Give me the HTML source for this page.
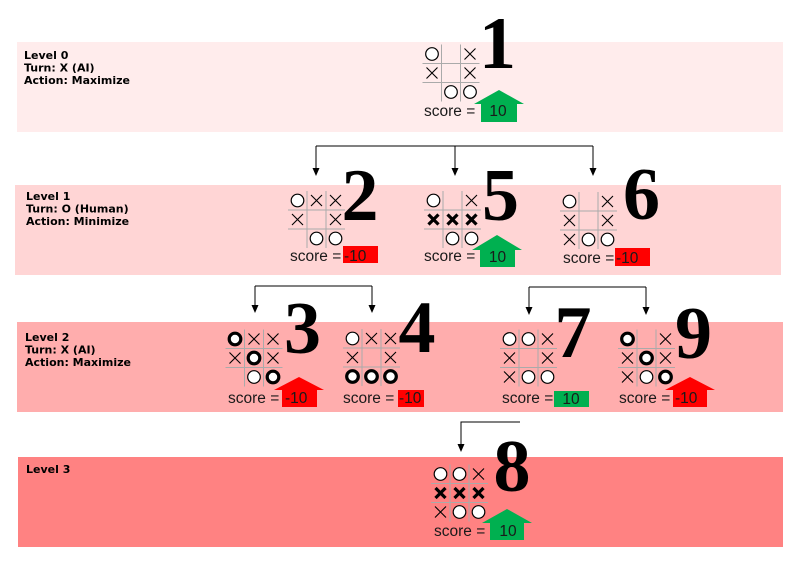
<!DOCTYPE html>
<html><head><meta charset="utf-8"><style>
html,body{margin:0;padding:0;background:#fff;}
svg{display:block;}
.lbl{font-family:"DejaVu Sans","Liberation Sans",sans-serif;font-weight:bold;font-size:11px;fill:#000;}
.big{font-family:"Liberation Serif",serif;font-weight:bold;font-size:74px;fill:#000;}
.sc{font-family:"Liberation Sans",sans-serif;font-size:15.5px;fill:#1a1a1a;}
</style></head><body>
<svg width="800" height="566" viewBox="0 0 800 566" xmlns="http://www.w3.org/2000/svg">
<defs>
  <g id="o"><circle r="6.3" fill="#fff" stroke="#000" stroke-width="1.2"/></g>
  <g id="ob"><circle r="5.8" fill="#fff" stroke="#000" stroke-width="3.2"/></g>
  <g id="x"><path d="M-5.5 -5.5L5.5 5.5M5.5 -5.5L-5.5 5.5" stroke="#000" stroke-width="1.1" fill="none"/></g>
  <g id="xb"><path d="M-5 -5L5 5M5 -5L-5 5" stroke="#000" stroke-width="3.2" fill="none"/></g>
  <g id="grid" stroke="#aaaaaa" stroke-width="1"><line x1="19" y1="0" x2="19" y2="57"/><line x1="38" y1="0" x2="38" y2="57"/><line x1="0" y1="19" x2="57" y2="19"/><line x1="0" y1="38" x2="57" y2="38"/></g>
  <marker id="ah" markerWidth="8" markerHeight="9" refX="4" refY="9" orient="auto" markerUnits="userSpaceOnUse"></marker>
</defs>

<!-- bands -->
<rect x="17" y="42" width="766" height="90" fill="#ffecec"/>
<rect x="15" y="185" width="766" height="90" fill="#ffd5d5"/>
<rect x="17" y="322" width="766" height="90" fill="#ffadad"/>
<rect x="18" y="457" width="765" height="90" fill="#ff8282"/>

<!-- labels -->
<text class="lbl" x="24" y="59">Level 0</text>
<text class="lbl" x="24" y="71.5">Turn: X (AI)</text>
<text class="lbl" x="24" y="84">Action: Maximize</text>

<text class="lbl" x="26" y="200">Level 1</text>
<text class="lbl" x="26" y="212.5">Turn: O (Human)</text>
<text class="lbl" x="26" y="225">Action: Minimize</text>

<text class="lbl" x="25" y="341">Level 2</text>
<text class="lbl" x="25" y="353.5">Turn: X (AI)</text>
<text class="lbl" x="25" y="366">Action: Maximize</text>

<text class="lbl" x="26" y="473">Level 3</text>

<!-- connectors -->
<g stroke="#000" stroke-width="1" fill="none">
  <path d="M316 146H593M316 146V169M455 146V169M593 146V169"/>
  <path d="M255 286H372M255 286V306M372 286V306"/>
  <path d="M529 287H646M529 287V308M646 287V308"/>
  <path d="M520 422H461V445"/>
</g>
<g fill="#000">
  <polygon points="316,176 312.5,168 319.5,168"/>
  <polygon points="455,176 451.5,168 458.5,168"/>
  <polygon points="593,176 589.5,168 596.5,168"/>
  <polygon points="255,313 251.5,305 258.5,305"/>
  <polygon points="372,313 368.5,305 375.5,305"/>
  <polygon points="529,315 525.5,307 532.5,307"/>
  <polygon points="646,315 642.5,307 649.5,307"/>
  <polygon points="461,452 457.5,444 464.5,444"/>
</g>

<!-- Board 1 -->
<g transform="translate(422.5,44.5)">
  <use href="#grid"/>
  <use href="#o" x="9.5" y="9.5"/><use href="#x" x="47.5" y="9.5"/>
  <use href="#x" x="9.5" y="28.5"/><use href="#x" x="47.5" y="28.5"/>
  <use href="#o" x="28.5" y="47.5"/><use href="#o" x="47.5" y="47.5"/>
</g>
<text class="big" x="497.5" y="68" text-anchor="middle">1</text>
<text class="sc" x="424" y="116">score =</text>
<polygon points="499,90 524,104 517,104 517,122 481,122 481,104 474,104" fill="#00b050"/>
<text class="sc" x="498" y="116" text-anchor="middle">10</text>

<!-- Board 2 -->
<g transform="translate(288,191)">
  <use href="#grid"/>
  <use href="#o" x="9.5" y="9.5"/><use href="#x" x="28.5" y="9.5"/><use href="#x" x="47.5" y="9.5"/>
  <use href="#x" x="9.5" y="28.5"/><use href="#x" x="47.5" y="28.5"/>
  <use href="#o" x="28.5" y="47.5"/><use href="#o" x="47.5" y="47.5"/>
</g>
<text class="big" x="360" y="220" text-anchor="middle">2</text>
<text class="sc" x="290" y="261">score =</text>
<rect x="343" y="246" width="35" height="17" fill="#ff0000"/>
<text class="sc" x="344" y="261">-10</text>

<!-- Board 5 -->
<g transform="translate(424,191)">
  <use href="#grid"/>
  <use href="#o" x="9.5" y="9.5"/><use href="#x" x="47.5" y="9.5"/>
  <use href="#xb" x="9.5" y="28.5"/><use href="#xb" x="28.5" y="28.5"/><use href="#xb" x="47.5" y="28.5"/>
  <use href="#o" x="28.5" y="47.5"/><use href="#o" x="47.5" y="47.5"/>
</g>
<text class="big" x="500.5" y="220" text-anchor="middle">5</text>
<text class="sc" x="424" y="261">score =</text>
<polygon points="497,235 522,250 515,250 515,267 480,267 480,250 472,250" fill="#00b050"/>
<text class="sc" x="497.5" y="262" text-anchor="middle">10</text>

<!-- Board 6 -->
<g transform="translate(560,192)">
  <use href="#grid"/>
  <use href="#o" x="9.5" y="9.5"/><use href="#x" x="47.5" y="9.5"/>
  <use href="#x" x="9.5" y="28.5"/><use href="#x" x="47.5" y="28.5"/>
  <use href="#x" x="9.5" y="47.5"/><use href="#o" x="28.5" y="47.5"/><use href="#o" x="47.5" y="47.5"/>
</g>
<text class="big" x="641.5" y="219" text-anchor="middle">6</text>
<text class="sc" x="563" y="263">score =</text>
<rect x="615" y="248" width="35" height="18" fill="#ff0000"/>
<text class="sc" x="616" y="263">-10</text>

<!-- Board 3 -->
<g transform="translate(225.5,329.5)">
  <use href="#grid"/>
  <use href="#ob" x="9.5" y="9.5"/><use href="#x" x="28.5" y="9.5"/><use href="#x" x="47.5" y="9.5"/>
  <use href="#x" x="9.5" y="28.5"/><use href="#ob" x="28.5" y="28.5"/><use href="#x" x="47.5" y="28.5"/>
  <use href="#o" x="28.5" y="47.5"/><use href="#ob" x="47.5" y="47.5"/>
</g>
<text class="big" x="302.5" y="353" text-anchor="middle">3</text>
<text class="sc" x="228" y="403">score =</text>
<polygon points="299,377 324,390 317,390 317,407 282,407 282,390 274,390" fill="#ff0000"/>
<text class="sc" x="285" y="403">-10</text>

<!-- Board 4 -->
<g transform="translate(343,329)">
  <use href="#grid"/>
  <use href="#o" x="9.5" y="9.5"/><use href="#x" x="28.5" y="9.5"/><use href="#x" x="47.5" y="9.5"/>
  <use href="#x" x="9.5" y="28.5"/><use href="#x" x="47.5" y="28.5"/>
  <use href="#ob" x="9.5" y="47.5"/><use href="#ob" x="28.5" y="47.5"/><use href="#ob" x="47.5" y="47.5"/>
</g>
<text class="big" x="417" y="352" text-anchor="middle">4</text>
<text class="sc" x="343" y="403">score =</text>
<rect x="398" y="390" width="26" height="17" fill="#ff0000"/>
<text class="sc" x="399" y="403">-10</text>

<!-- Board 7 -->
<g transform="translate(500,329.5)">
  <use href="#grid"/>
  <use href="#o" x="9.5" y="9.5"/><use href="#o" x="28.5" y="9.5"/><use href="#x" x="47.5" y="9.5"/>
  <use href="#x" x="9.5" y="28.5"/><use href="#x" x="47.5" y="28.5"/>
  <use href="#x" x="9.5" y="47.5"/><use href="#o" x="28.5" y="47.5"/><use href="#o" x="47.5" y="47.5"/>
</g>
<text class="big" x="573" y="357" text-anchor="middle">7</text>
<text class="sc" x="502" y="403">score =</text>
<rect x="554" y="391" width="35" height="16" fill="#00b050"/>
<text class="sc" x="571" y="404" text-anchor="middle">10</text>

<!-- Board 9 -->
<g transform="translate(618,329.5)">
  <use href="#grid"/>
  <use href="#ob" x="9.5" y="9.5"/><use href="#x" x="47.5" y="9.5"/>
  <use href="#x" x="9.5" y="28.5"/><use href="#ob" x="28.5" y="28.5"/><use href="#x" x="47.5" y="28.5"/>
  <use href="#x" x="9.5" y="47.5"/><use href="#o" x="28.5" y="47.5"/><use href="#ob" x="47.5" y="47.5"/>
</g>
<text class="big" x="693.5" y="358" text-anchor="middle">9</text>
<text class="sc" x="619" y="403">score =</text>
<polygon points="690,377 715,390 707,390 707,407 673,407 673,390 665,390" fill="#ff0000"/>
<text class="sc" x="675" y="403">-10</text>

<!-- Board 8 -->
<g transform="translate(431,464.5)">
  <use href="#grid"/>
  <use href="#o" x="9.5" y="9.5"/><use href="#o" x="28.5" y="9.5"/><use href="#x" x="47.5" y="9.5"/>
  <use href="#xb" x="9.5" y="28.5"/><use href="#xb" x="28.5" y="28.5"/><use href="#xb" x="47.5" y="28.5"/>
  <use href="#x" x="9.5" y="47.5"/><use href="#o" x="28.5" y="47.5"/><use href="#o" x="47.5" y="47.5"/>
</g>
<text class="big" x="512" y="491" text-anchor="middle">8</text>
<text class="sc" x="434" y="536">score =</text>
<polygon points="507,509 532,523 524,523 524,540 490,540 490,523 482,523" fill="#00b050"/>
<text class="sc" x="508" y="536" text-anchor="middle">10</text>
</svg>
</body></html>
